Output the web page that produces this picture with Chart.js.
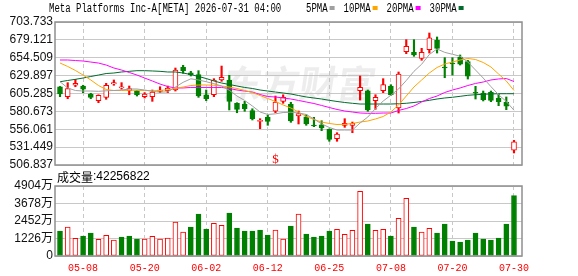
<!DOCTYPE html>
<html>
<head>
<meta charset="utf-8">
<script src="https://cdn.jsdelivr.net/npm/chart.js"></script>
<style>
  html, body { margin: 0; padding: 0; background: #fff; width: 578px; height: 276px; overflow: hidden; }
  #wrap { position: relative; width: 578px; height: 276px; }
  #priceBox { position: absolute; left: 0; top: 0; width: 578px; height: 182px; }
  #volBox { position: absolute; left: 0; top: 166px; width: 578px; height: 110px; }
</style>
</head>
<body>
<div id="wrap">
  <div id="priceBox"><canvas id="priceChart"></canvas></div>
  <div id="volBox"><canvas id="volChart"></canvas></div>
</div>
<script>
// trading days shown on the chart
const dates = ['05-05','05-06','05-07','05-08','05-11','05-12','05-13','05-14','05-15','05-18',
  '05-19','05-20','05-21','05-22','05-26','05-27','05-28','05-29','06-01','06-02',
  '06-03','06-04','06-05','06-08','06-09','06-10','06-11','06-12','06-15','06-16',
  '06-17','06-18','06-22','06-23','06-24','06-25','06-26','06-29','06-30','07-01',
  '07-02','07-06','07-07','07-08','07-09','07-10','07-13','07-14','07-15','07-16',
  '07-17','07-20','07-21','07-22','07-23','07-24','07-27','07-28','07-29','07-30'];
const tickDates = ['05-08','05-20','06-02','06-12','06-25','07-08','07-20','07-30'];

const open = [614.6,600.9,616.6,615.6,604.6,595.4,600.0,618.4,612.9,609.1,
  609.1,600.9,600.9,608.3,609.1,610.1,641.4,633.9,631.2,603.6,
  603.6,623.9,623.9,591.8,590.8,581.6,567.0,572.5,580.8,594.5,
  590.4,574.3,573.3,561.5,562.3,556.0,543.1,561.5,561.5,609.1,
  609.1,595.4,609.1,615.6,585.3,662.8,662.0,653.7,665.6,678.5,
  641.4,646.9,655.5,649.1,606.4,606.0,607.0,598.7,593.2,527.1];
const high = [615.0,620.2,624.8,616.6,605.6,603.5,619.3,623.9,620.2,615.6,
  609.5,606.4,610.1,614.6,615.6,640.4,644.1,635.8,636.7,610.1,
  625.7,643.1,630.3,592.6,594.5,584.3,570.6,575.3,601.8,603.5,
  593.2,581.2,576.1,572.5,567.8,556.5,551.3,570.6,566.0,629.4,
  610.1,603.6,625.7,617.4,634.9,679.4,679.4,667.5,688.6,683.1,
  654.6,654.6,658.3,651.0,615.2,608.7,608.7,604.2,600.5,540.8];
const low = [600.9,598.1,614.6,606.4,598.1,592.6,597.3,616.6,611.1,603.6,
  601.8,599.1,594.5,606.4,606.4,608.7,633.1,629.4,600.0,595.4,
  600.9,622.1,582.6,578.8,580.8,568.8,556.8,561.5,578.8,591.8,
  565.6,563.3,561.5,559.6,554.1,539.5,539.5,558.7,551.3,596.3,
  580.8,583.5,606.4,602.8,578.4,660.1,656.5,651.0,661.0,661.0,
  627.0,630.7,644.5,625.2,597.7,595.0,594.0,588.5,583.0,523.4];
const close = [604.6,611.9,619.3,611.1,600.0,602.8,616.6,620.2,614.6,611.9,
  603.6,604.6,607.3,610.1,612.9,637.6,636.7,631.2,601.8,598.1,
  623.9,627.6,594.5,583.5,584.3,570.6,567.8,567.0,593.6,600.0,
  567.4,577.7,563.3,560.5,557.8,542.2,549.5,564.3,564.3,613.8,
  582.6,600.0,617.4,603.6,632.1,670.3,658.3,662.0,682.1,667.5,
  640.4,645.9,645.5,629.0,605.6,596.7,595.9,594.0,587.7,538.9];

const ma5 = [621.5,612.9,609.4,608.7,608.7,608.3,609.0,609.4,610.1,611.5,
  611.5,610.1,608.3,607.1,607.6,614.2,620.7,625.5,623.9,621.5,
  618.8,615.6,609.7,601.8,595.7,588.1,579.8,576.4,577.3,579.1,
  579.5,578.4,576.4,570.2,563.3,558.5,555.0,555.0,555.0,564.7,
  572.9,584.6,594.9,602.9,611.5,623.2,635.8,645.6,659.0,666.6,
  661.9,659.3,656.6,648.6,637.6,626.6,614.8,603.6,594.3,582.2];
const ma10 = [647.3,642.5,637.0,630.7,623.9,616.3,610.8,609.4,609.4,609.7,
  609.7,609.4,609.0,609.4,610.4,612.2,614.2,616.3,617.0,617.0,
  616.6,615.6,614.2,612.2,609.4,606.7,602.5,598.4,594.3,589.5,
  585.3,579.8,573.6,569.5,566.0,564.0,562.6,562.9,564.0,566.0,
  567.4,570.2,573.6,579.8,589.5,601.8,614.2,623.9,633.5,641.1,
  645.9,648.7,651.4,653.5,652.1,648.0,641.8,632.1,622.5,609.4];
const ma20 = [651.4,651.4,650.7,650.0,648.6,647.2,644.5,640.4,637.6,634.2,
  630.7,626.6,622.5,618.3,614.9,612.9,612.9,613.6,613.6,613.6,
  613.6,613.6,612.2,610.1,608.7,607.3,603.9,601.1,600.5,599.1,
  597.7,595.7,593.6,591.5,588.8,586.0,583.3,581.2,579.8,578.4,
  578.0,578.0,578.4,578.4,581.9,584.6,588.1,593.6,598.4,601.8,
  606.7,610.1,612.9,616.3,619.1,621.1,623.9,625.3,625.9,621.8];
const ma30 = [621.5,623.2,624.8,626.6,628.7,630.7,632.8,633.5,634.9,635.8,
  636.7,636.7,636.3,635.8,634.9,634.9,633.5,631.4,628.7,625.9,
  622.5,619.7,617.7,615.6,613.6,612.2,610.1,608.7,607.3,606.0,
  604.6,602.5,600.5,599.1,597.7,595.9,594.3,592.9,591.8,590.8,
  590.8,590.8,590.8,590.8,591.2,591.8,592.9,594.3,595.9,597.7,
  599.1,600.1,601.4,602.8,603.6,604.2,604.6,605.0,605.0,605.0];

// volume in 万 shares; 1 = up day (red hollow), 0 = down day (green)
const volume = [1751,2032,1240,1401,1611,1170,1450,1121,1331,1401,
  1191,1191,1380,1191,1261,2382,1681,2032,2943,1892,
  2291,2151,3013,1962,1751,1751,1822,1471,1822,1191,
  2102,2943,1541,1331,1401,1751,1871,1520,1801,4533,
  2242,1801,1871,1401,2641,4042,2032,1681,1941,1611,
  2242,1051,981,1121,1611,1191,1121,1261,2242,4225.6822];
const volUp = [0,1,1,0,0,1,1,1,0,0, 0,1,1,1,1,1,1,0,0,0,
  1,1,0,0,0,0,0,0,1,1, 0,1,0,0,0,0,1,1,1,1,
  0,1,1,0,1,1,0,1,1,0, 0,0,0,0,0,0,0,0,0,0];
const lastVolume = '42256822';

const priceTicks = [506.837, 531.449, 556.061, 580.673, 605.285, 629.897, 654.509, 679.121, 703.733];
const volTicks = [0, 1226, 2452, 3678, 4904];

const maLegend = [['5PMA', '#a0a0a0'], ['10PMA', '#ffa500'], ['20PMA', '#ff00ff'], ['30PMA', '#006b2d']];
const title = 'Meta Platforms Inc-A[META] 2026-07-31 04:00';
const markIdx = 28;

const RED = '#ff0000', GREEN = '#008000';
const idx = dates.map((d, i) => i);
const tickIdx = tickDates.map(d => dates.indexOf(d));
const isUp = i => close[i] >= open[i];
const SANS = '"Liberation Sans", "Noto Sans CJK SC", sans-serif';

function xScale(showLabels) {
  return {
    type: 'linear',
    offset: false,
    min: -0.65,
    max: dates.length + 0.04,
    afterBuildTicks: s => { s.ticks = tickIdx.map(v => ({ value: v })); },
    afterFit: s => { s.height = showLabels ? 20 : 0; },
    grid: { color: '#c8c8c8', lineWidth: 1, drawTicks: false, offset: false },
    border: { display: false, dash: [4, 3] },
    ticks: {
      display: showLabels, autoSkip: false, maxRotation: 0, padding: 6, color: RED,
      font: { family: '"Liberation Mono", monospace', size: 10 },
      callback: v => dates[v]
    }
  };
}

function yScale(min, max, ticks, fmt) {
  return {
    min: min, max: max,
    afterBuildTicks: s => { s.ticks = ticks.map(v => ({ value: v })); },
    afterFit: s => { s.width = 55; },
    grid: { color: '#c8c8c8', lineWidth: 1, drawTicks: false },
    border: { display: false },
    ticks: { padding: 2, color: '#111', font: { family: SANS, size: 12 }, callback: fmt }
  };
}

const frame = {
  id: 'frame',
  afterDraw(c) {
    const a = c.chartArea, g = c.ctx;
    g.save();
    g.strokeStyle = '#8f8f8f';
    g.lineWidth = 1.5;
    g.strokeRect(a.left, a.top, a.right - a.left, a.bottom - a.top);
    g.restore();
  }
};

function monoText(g, text, x, y, color) {
  g.save();
  g.font = '12px "Liberation Mono", monospace';
  g.fillStyle = color;
  g.textBaseline = 'middle';
  g.translate(x, y);
  g.scale(0.75, 1);
  g.fillText(text, 0, 0);
  g.restore();
}

const priceDeco = {
  id: 'priceDeco',
  beforeDatasetsDraw(c) {
    // faint watermark
    const g = c.ctx;
    g.save();
    g.font = 'bold 38px "Noto Sans CJK SC"';
    g.fillStyle = 'rgba(190,190,190,0.28)';
    g.textBaseline = 'middle';
    g.translate(224, 84);
    g.transform(1, 0, -0.15, 1, 0, 0);
    g.fillText('东方财富', 0, 0);
    g.restore();
  },
  afterDraw(c) {
    const g = c.ctx;
    monoText(g, title, 49, 9, '#000');
    let x = 306;
    maLegend.forEach(([name, col]) => {
      monoText(g, name, x, 9, '#000');
      const w = name.length * 5.4;
      g.fillStyle = col;
      g.fillRect(x + w + 2, 6, 5, 4);
      x += w + 16;
    });
    // event mark below the candles
    const xs = c.scales.x.getPixelForValue(markIdx);
    g.save();
    g.font = '13px "Liberation Serif"';
    g.fillStyle = RED;
    g.textAlign = 'center';
    g.textBaseline = 'alphabetic';
    g.fillText('$', xs, 163);
    g.restore();
  }
};

const volDeco = {
  id: 'volDeco',
  afterDraw(c) {
    const g = c.ctx;
    g.save();
    g.fillStyle = '#000';
    g.textBaseline = 'middle';
    g.font = '12px "Noto Sans CJK SC"';
    g.fillText('成交量', 57, 11);
    const w = g.measureText('成交量').width;
    g.font = '12px "Liberation Sans"';
    g.fillText(':' + lastVolume, 57 + w, 11);
    g.restore();
  }
};

const common = {
  responsive: true,
  maintainAspectRatio: false,
  animation: false,
  devicePixelRatio: 1,
  events: [],
  plugins: { legend: { display: false }, tooltip: { enabled: false } }
};

function maLine(values, color) {
  return {
    type: 'line',
    data: idx.map(i => ({ x: i, y: values[i] })),
    borderColor: color, borderWidth: 1, pointRadius: 0, tension: 0, order: 0
  };
}

new Chart(document.getElementById('priceChart'), {
  type: 'bar',
  data: {
    datasets: [
      maLine(ma5, maLegend[0][1]),
      maLine(ma10, maLegend[1][1]),
      maLine(ma20, maLegend[2][1]),
      maLine(ma30, maLegend[3][1]),
      {
        data: idx.map(i => ({ x: i, y: [open[i], close[i]] })),
        barThickness: 5, grouped: false, minBarLength: 1, order: 1,
        backgroundColor: c => isUp(c.dataIndex) ? '#ffffff' : GREEN,
        borderColor: c => isUp(c.dataIndex) ? RED : GREEN,
        borderWidth: 1, borderSkipped: false
      },
      {
        data: idx.map(i => ({ x: i, y: [low[i], high[i]] })),
        barThickness: 1.5, grouped: false, order: 2,
        backgroundColor: c => isUp(c.dataIndex) ? RED : GREEN,
        borderWidth: 0
      }
    ]
  },
  options: Object.assign({}, common, {
    layout: { padding: { top: 22, right: 56, bottom: 17, left: 0 } },
    scales: {
      x: xScale(false),
      y: yScale(priceTicks[0], priceTicks[priceTicks.length - 1], priceTicks, v => v.toFixed(3))
    }
  }),
  plugins: [frame, priceDeco]
});

new Chart(document.getElementById('volChart'), {
  type: 'bar',
  data: {
    datasets: [{
      data: idx.map(i => ({ x: i, y: volume[i] })),
      barThickness: 5, grouped: false,
      backgroundColor: c => volUp[c.dataIndex] ? '#ffffff' : GREEN,
      borderColor: c => volUp[c.dataIndex] ? RED : GREEN,
      borderWidth: 1, borderSkipped: false
    }]
  },
  options: Object.assign({}, common, {
    layout: { padding: { top: 20, right: 56, bottom: 0, left: 0 } },
    scales: {
      x: xScale(true),
      y: yScale(0, volTicks[volTicks.length - 1], volTicks, v => v === 0 ? '0' : v + '万')
    }
  }),
  plugins: [frame, volDeco]
});
</script>
</body>
</html>
